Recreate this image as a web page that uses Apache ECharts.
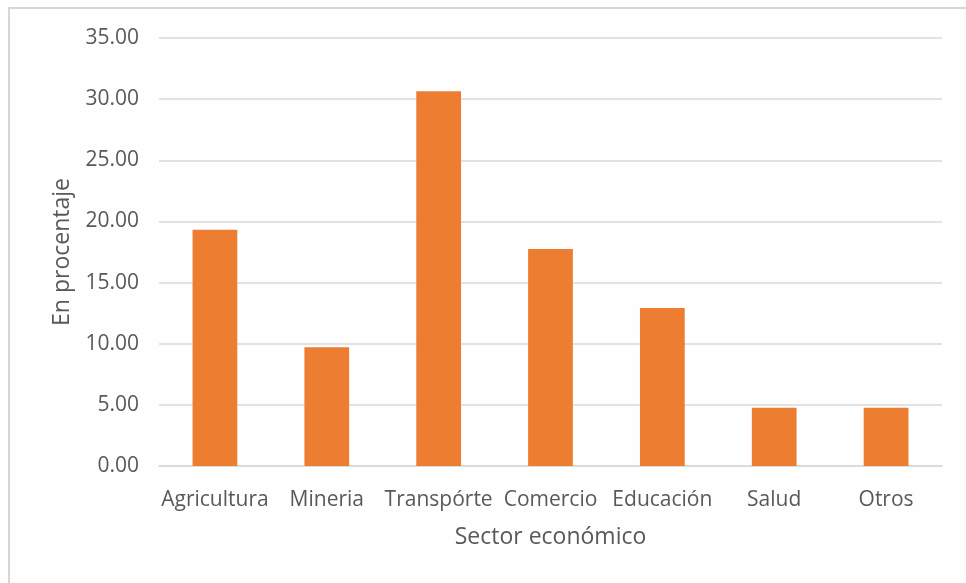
<!DOCTYPE html>
<html>
<head>
<meta charset="utf-8">
<title>Sector económico</title>
<script src="https://cdn.jsdelivr.net/npm/echarts@6/dist/echarts.min.js"></script>
<style>
  html, body { margin: 0; padding: 0; background: #ffffff; }
  #chart { width: 966px; height: 583px; }
</style>
</head>
<body>
<div id="chart"></div>
<script>
// Sectors along the horizontal axis
const categories = ['Agricultura', 'Mineria', 'Transpórte', 'Comercio', 'Educación', 'Salud', 'Otros'];
// Share of each sector, in percent
const values = [19.32, 9.71, 30.64, 17.74, 12.92, 4.77, 4.77];
// Vertical axis range
const yMin = 0;
const yMax = 35;
const yStep = 5;

const textColor = '#595959';
const fontFamily = '"Open Sans", "Noto Sans", sans-serif';

const chart = echarts.init(document.getElementById('chart'), null, { renderer: 'canvas' });

chart.setOption({
  backgroundColor: '#fefefe',
  animation: false,
  graphic: [{
    type: 'rect',
    shape: { x: 9, y: 8, width: 1000, height: 620 },
    style: { fill: 'none', stroke: '#d6d6d6', lineWidth: 2 },
    silent: true,
    z: -1
  }],
  grid: { left: 159, right: 24, top: 38, bottom: 117, containLabel: false },
  xAxis: {
    type: 'category',
    data: categories,
    name: 'Sector económico',
    nameLocation: 'middle',
    nameGap: 60,
    nameTextStyle: { color: textColor, fontSize: 23, fontFamily: fontFamily },
    axisLine: { show: true, lineStyle: { color: '#d9d9d9', width: 1.5 } },
    axisTick: { show: false },
    axisLabel: { color: textColor, fontSize: 21, fontFamily: fontFamily, margin: 24, interval: 0 }
  },
  yAxis: {
    type: 'value',
    min: yMin,
    max: yMax,
    interval: yStep,
    name: 'En procentaje',
    nameLocation: 'middle',
    nameGap: 85,
    nameRotate: 90,
    nameTextStyle: { color: textColor, fontSize: 23, fontFamily: fontFamily },
    axisLine: { show: false },
    axisTick: { show: false },
    axisLabel: {
      color: textColor, fontSize: 21, fontFamily: fontFamily, margin: 20,
      formatter: v => v.toFixed(2)
    },
    splitLine: { lineStyle: { color: '#d9d9d9', width: 1.5 } }
  },
  series: [{
    type: 'bar',
    data: values,
    barWidth: '40%',
    itemStyle: { color: '#ed7d31' }
  }]
});
</script>
</body>
</html>
